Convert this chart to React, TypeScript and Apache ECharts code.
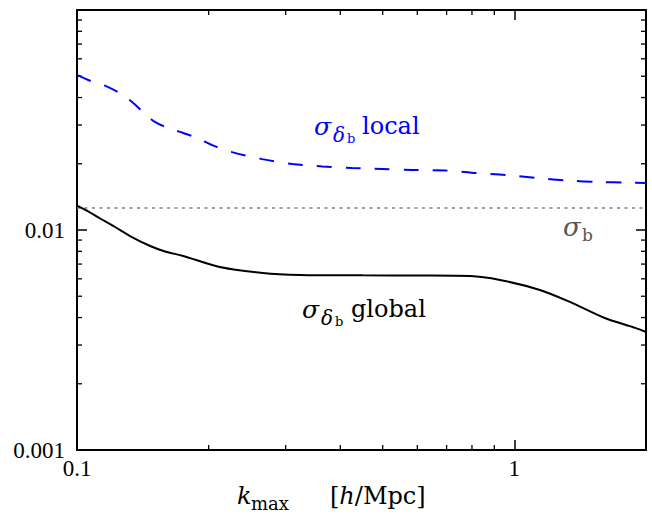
import React, { useEffect, useRef } from "react";
import * as echarts from "echarts";

// ---- data ----
const kGlobal = [0.1, 0.1071, 0.1129, 0.1222, 0.1322, 0.147, 0.159, 0.175, 0.212, 0.266, 0.324, 0.45, 0.609, 0.793, 0.927, 1.144, 1.34, 1.61, 1.89, 2.0];
const sigmaGlobal = [0.0129, 0.01201, 0.01128, 0.01032, 0.00939, 0.00846, 0.00799, 0.00762, 0.00679, 0.00638, 0.00625, 0.00622, 0.00621, 0.00618, 0.00593, 0.00534, 0.00471, 0.00398, 0.00359, 0.00344];

const kLocal = [0.1, 0.1076, 0.1165, 0.1248, 0.1336, 0.1416, 0.1507, 0.1615, 0.175, 0.1883, 0.2037, 0.2263, 0.265, 0.3105, 0.364, 0.426, 0.499, 0.584, 0.695, 0.818, 0.959, 1.13, 1.33, 1.556, 1.82, 2.0];
const sigmaLocal = [0.0507, 0.0475, 0.0451, 0.042, 0.0382, 0.0344, 0.031, 0.0291, 0.0276, 0.0262, 0.0243, 0.0226, 0.021, 0.01995, 0.01945, 0.01914, 0.01893, 0.01874, 0.01864, 0.01815, 0.01778, 0.01722, 0.01678, 0.01652, 0.01643, 0.01636];

const kRange = [0.1, 2.0];
const sigmaB = 0.0126;

const xTickLabels: Record<string, string> = { "-1": "0.1", "0": "1" };
const yTickLabels: Record<string, string> = { "-3": "0.001", "-2": "0.01" };
const xMinorTicks = [0.2, 0.3, 0.4, 0.5, 0.6, 0.7, 0.8, 0.9];
const yMinorTicks = [0.002, 0.003, 0.004, 0.005, 0.006, 0.007, 0.008, 0.009, 0.02, 0.03, 0.04, 0.05, 0.06, 0.07, 0.08, 0.09];

const SERIF = "'DejaVu Serif', serif";
const TICKFONT = "'Liberation Serif', serif";

function labelFor(map: Record<string, string>) {
  return (v: number) => {
    const e = Math.log10(v);
    const r = Math.round(e);
    if (Math.abs(e - r) > 1e-6) return "";
    return map[String(r)] ?? "";
  };
}

// baseline -> middle offset helper for graphic texts
function txt(text: string, x: number, baseline: number, size: number, fill: string, italic = false, extra: any = {}) {
  return {
    type: "text",
    x,
    y: baseline - size * 0.36,
    silent: true,
    style: {
      text,
      fontSize: size,
      fontFamily: SERIF,
      fontStyle: italic ? "italic" : "normal",
      fill,
      align: "left",
      verticalAlign: "middle",
      ...extra,
    },
  };
}

export default function App() {
  const ref = useRef<HTMLDivElement>(null);
  useEffect(() => {
    if (!ref.current) return;
    const chart = echarts.init(ref.current, undefined, { renderer: "svg" });

    const axisCommon = {
      type: "log",
      logBase: 10,
      splitLine: { show: false },
      minorTick: { show: false },
      axisLine: { show: true, onZero: false, lineStyle: { color: "#000", width: 2 } },
      axisTick: { show: true, inside: true, length: 10, lineStyle: { color: "#000", width: 1.5 } },
    };

    const minorData = [
      ...xMinorTicks.map((v) => [v, 0.01, 0]),
      ...yMinorTicks.map((v) => [0.5, v, 1]),
    ];

    chart.setOption({
      animation: false,
      grid: { left: 77, right: 6, top: 10, bottom: 69, outerBoundsMode: "none", containLabel: false },
      xAxis: [
        {
          ...axisCommon,
          position: "bottom",
          min: kRange[0],
          max: kRange[1],
          axisLabel: {
            show: true,
            margin: 7,
            fontSize: 23,
            fontFamily: TICKFONT,
            color: "#000",
            formatter: labelFor(xTickLabels),
            showMinLabel: true,
            showMaxLabel: false,
          },
        },
        {
          ...axisCommon,
          position: "top",
          min: kRange[0],
          max: kRange[1],
          axisLabel: { show: false },
        },
      ],
      yAxis: [
        {
          ...axisCommon,
          position: "left",
          min: 0.001,
          max: 0.1,
          axisLabel: {
            show: true,
            margin: 12,
            fontSize: 23,
            fontFamily: TICKFONT,
            color: "#000",
            formatter: labelFor(yTickLabels),
            showMinLabel: true,
            showMaxLabel: false,
          },
        },
        {
          ...axisCommon,
          position: "right",
          min: 0.001,
          max: 0.1,
          axisLabel: { show: false },
        },
      ],
      series: [
        {
          type: "line",
          name: "sigma_b",
          data: kRange.map((k) => [k, sigmaB]),
          showSymbol: false,
          lineStyle: { color: "#808080", width: 1.5, type: [3, 4.5] },
          silent: true,
        },
        {
          type: "line",
          name: "local",
          data: kLocal.map((k, i) => [k, sigmaLocal[i]]),
          showSymbol: false,
          smooth: 0.3,
          lineStyle: { color: "#0000ff", width: 2, type: [15, 14] },
          silent: true,
        },
        {
          type: "line",
          name: "global",
          data: kGlobal.map((k, i) => [k, sigmaGlobal[i]]),
          showSymbol: false,
          smooth: 0.3,
          lineStyle: { color: "#000", width: 2 },
          silent: true,
        },
        {
          type: "custom",
          name: "minorTicks",
          data: minorData,
          silent: true,
          renderItem: (params: any, api: any) => {
            const cs = params.coordSys;
            const kind = api.value(2);
            const len = 5;
            const mk = (x1: number, y1: number, x2: number, y2: number) => ({
              type: "line",
              shape: { x1, y1, x2, y2 },
              style: { stroke: "#000", lineWidth: 1.3 },
            });
            if (kind === 0) {
              const x = api.coord([api.value(0), 0.01])[0];
              return {
                type: "group",
                children: [
                  mk(x, cs.y + cs.height, x, cs.y + cs.height - len),
                  mk(x, cs.y, x, cs.y + len),
                ],
              };
            }
            const y = api.coord([0.5, api.value(1)])[1];
            return {
              type: "group",
              children: [
                mk(cs.x, y, cs.x + len, y),
                mk(cs.x + cs.width, y, cs.x + cs.width - len, y),
              ],
            };
          },
        },
      ],
      graphic: [
        // sigma_delta_b local
        txt("σ", 314, 135, 25, "#0000ff", true),
        txt("δ", 333, 142, 20, "#0000ff", true),
        txt("b", 347, 143, 13, "#0000ff"),
        txt("local", 362, 135, 24, "#0000ff"),
        // sigma_delta_b global
        txt("σ", 302, 318, 25, "#000", true),
        txt("δ", 321, 325, 20, "#000", true),
        txt("b", 335, 326, 13, "#000"),
        txt("global", 351, 318, 24, "#000"),
        // sigma_b
        txt("σ", 563, 236, 26, "#555", true),
        txt("b", 582, 241, 17, "#555"),
        // x axis title
        txt("k", 237, 505, 24, "#000", true),
        txt("max", 251, 510, 18, "#000"),
        {
          type: "text",
          x: 330,
          y: 505 - 24 * 0.36,
          silent: true,
          style: {
            text: "[{i|h}/Mpc]",
            fontSize: 24,
            fontFamily: SERIF,
            fill: "#000",
            align: "left",
            verticalAlign: "middle",
            rich: { i: { fontSize: 24, fontFamily: SERIF, fontStyle: "italic", fill: "#000" } },
          },
        },
      ],
    });
    return () => chart.dispose();
  }, []);
  return (
    <div
      ref={ref}
      style={{ position: "fixed", left: 0, top: 0, width: 652, height: 519, background: "#fff" }}
    />
  );
}
